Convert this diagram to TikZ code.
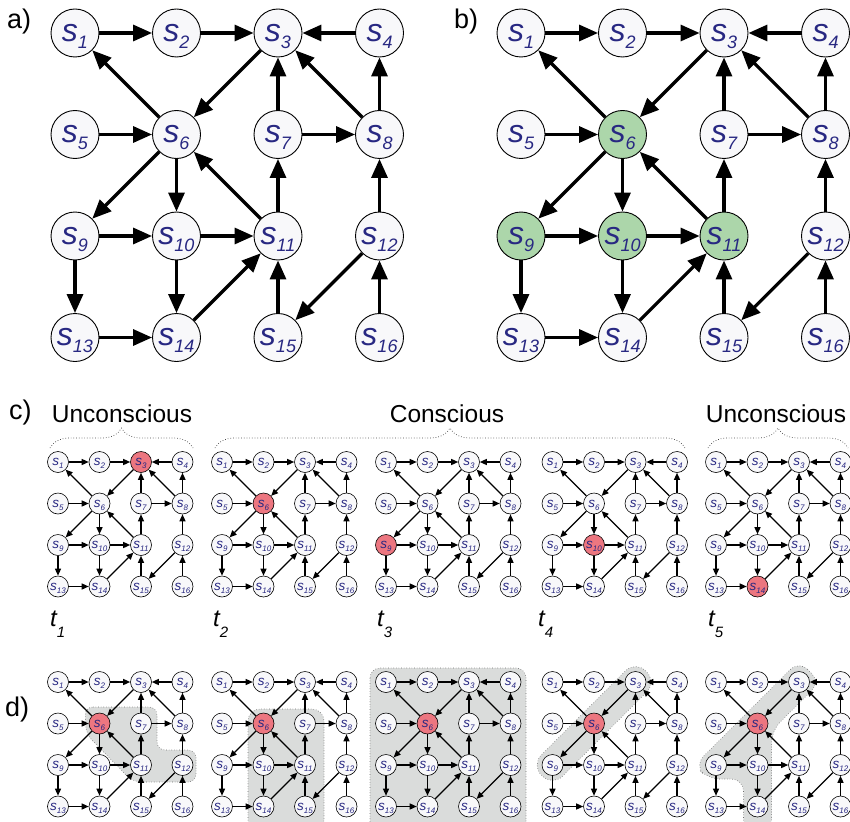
\documentclass[tikz,border=0pt]{standalone}
\usepackage{fontspec}
\newfontfamily\arial{Liberation Sans}
\usetikzlibrary{arrows.meta,calc,decorations.pathreplacing}
\definecolor{navy}{RGB}{40,40,130}
\definecolor{nodefill}{RGB}{248,248,250}
\definecolor{hlgreen}{RGB}{172,214,170}
\definecolor{hlred}{RGB}{236,118,128}
\definecolor{shade}{RGB}{218,220,219}
\definecolor{shadeline}{RGB}{110,110,110}
\definecolor{bracegray}{RGB}{70,70,70}

\makeatletter
\newcommand\labbig[1]{{\fontsize{32}{32}\selectfont s}\raisebox{-7pt}[0pt][0pt]{\fontsize{18}{18}\selectfont #1}}
\newcommand\labsmall[1]{{\fontsize{13.5}{13.5}\selectfont s}\raisebox{-3pt}[0pt][0pt]{\fontsize{8}{8}\selectfont #1}}
\newcommand\drawgrid[7]{%
  \foreach \i in {1,...,16}{%
    \pgfmathtruncatemacro\gcx{mod(\i-1,4)}%
    \pgfmathtruncatemacro\gcy{div(\i-1,4)}%
    \edef\gtest{\noexpand\in@{,\i,}{,#5,}}\gtest
    \ifin@\tikzset{hlnow/.style={#6}}\else\tikzset{hlnow/.style={}}\fi
    \node[#7node,hlnow] (#1\i) at (#2+\gcx*#4,#3+\gcy*#4) {\csname lab#7\endcsname{\i}};
  }%
  \foreach \ga/\gb in {1/2,2/3,4/3,6/1,3/6,7/3,8/3,8/4,5/6,7/8,6/9,6/10,11/6,11/7,12/8,9/10,10/11,9/13,10/14,14/11,15/11,12/15,16/12,13/14}{%
    \draw[#7edge] (#1\ga) -- (#1\gb);
  }%
}
\makeatother

\begin{document}
\begin{tikzpicture}[x=1pt,y=-1pt,
  bignode/.style={circle, draw=black, line width=0.9pt, fill=nodefill, minimum size=48pt, inner sep=0pt, text=navy, font=\arial\itshape},
  bigedge/.style={line width=3.2pt, -{Triangle[length=19pt,width=16pt]}},
  smallnode/.style={circle, draw=black, line width=0.6pt, fill=nodefill, minimum size=21pt, inner sep=0pt, text=navy, font=\arial\itshape},
  smalledge/.style={line width=1.3pt, -{Triangle[length=7pt,width=6pt]}},
  panellabel/.style={font=\arial\fontsize{27}{27}\selectfont, inner sep=0pt},
  headtext/.style={font=\arial\fontsize{24.5}{24.5}\selectfont, inner sep=0pt},
  tlabel/.style={font=\arial\itshape\fontsize{24}{24}\selectfont, inner sep=0pt},
  bracestyle/.style={draw=bracegray, line width=0.7pt, dotted, decorate, decoration={brace, amplitude=20pt}},
  shadestyle/.style={fill=shade, draw=shadeline, line width=0.6pt, dotted}
]
\useasboundingbox (0,0) rectangle (850,821);

% panel labels
\node[panellabel, anchor=base west] (la) at (7,29) {a)};
\node[panellabel, anchor=base west] (lb) at (454,29) {b)};
\node[panellabel, anchor=base west] (lc) at (9,419) {c)};
\node[panellabel, anchor=base west] (ld) at (5,716) {d)};

% a) and b)
\drawgrid{a}{75}{33}{101.5}{}{}{big}
\drawgrid{b}{521}{33}{101.5}{6,9,10,11}{fill=hlgreen}{big}

% c) headers and braces
\node[headtext, anchor=base] (u1) at (122,422) {Unconscious};
\node[headtext, anchor=base] (co) at (447,422) {Conscious};
\node[headtext, anchor=base] (u2) at (776,422) {Unconscious};
\coordinate (br1a) at (50,448);  \coordinate (br1b) at (193,448);
\coordinate (br2a) at (215,448); \coordinate (br2b) at (685,448);
\coordinate (br3a) at (708,448); \coordinate (br3b) at (848,448);
\draw[bracestyle] (br1a) -- (br1b);
\draw[bracestyle] (br2a) -- (br2b);
\draw[bracestyle] (br3a) -- (br3b);

% c) grids
\drawgrid{ca}{58}{462}{41.5}{3}{fill=hlred}{small}
\drawgrid{cb}{222}{462}{41.5}{6}{fill=hlred}{small}
\drawgrid{cc}{386}{462}{41.5}{9}{fill=hlred}{small}
\drawgrid{cd}{552.5}{462}{41.5}{10}{fill=hlred}{small}
\drawgrid{ce}{716}{462}{41.5}{14}{fill=hlred}{small}

% time labels
\node[tlabel, anchor=base west] (t1) at (50,626) {t\raisebox{-11pt}{\fontsize{15}{15}\selectfont 1}};
\node[tlabel, anchor=base west] (t2) at (213,626) {t\raisebox{-11pt}{\fontsize{15}{15}\selectfont 2}};
\node[tlabel, anchor=base west] (t3) at (377,626) {t\raisebox{-11pt}{\fontsize{15}{15}\selectfont 3}};
\node[tlabel, anchor=base west] (t4) at (538,626) {t\raisebox{-11pt}{\fontsize{15}{15}\selectfont 4}};
\node[tlabel, anchor=base west] (t5) at (708,626) {t\raisebox{-11pt}{\fontsize{15}{15}\selectfont 5}};

% d) shaded regions
\begin{scope}[shift={(58,682)}]
  \path[shadestyle, rounded corners=8pt] (27,25) -- (99,25) -- (99,68) -- (138,68) -- (138,100) -- (75,100) -- (28,52) -- cycle;
\end{scope}
\begin{scope}[shift={(222,682)}]
  \path[shadestyle, rounded corners=12pt] (26,27) rectangle (102,150);
\end{scope}
\begin{scope}[shift={(386,682)}]
  \path[shadestyle, rounded corners=10pt] (-16,-14) rectangle (140,150);
\end{scope}
\begin{scope}[shift={(552.5,682)}]
  \path[shadestyle, rounded corners=14pt] (83,-21.2) -- (104.2,0) -- (0,104.2) -- (-21.2,83) -- cycle;
\end{scope}
\begin{scope}[shift={(716,682)}]
  \path[shadestyle, rounded corners=12pt] (83,-21.2) -- (104.2,0) -- (55.5,48.7) -- (55.5,150) -- (27.5,150) -- (27.5,97) -- (-8,97) -- (-21.2,83) -- cycle;
\end{scope}

% d) grids
\drawgrid{da}{58}{682}{41.5}{6}{fill=hlred}{small}
\drawgrid{db}{222}{682}{41.5}{6}{fill=hlred}{small}
\drawgrid{dc}{386}{682}{41.5}{6}{fill=hlred}{small}
\drawgrid{dd}{552.5}{682}{41.5}{6}{fill=hlred}{small}
\drawgrid{de}{716}{682}{41.5}{6}{fill=hlred}{small}
\end{tikzpicture}
\end{document}
